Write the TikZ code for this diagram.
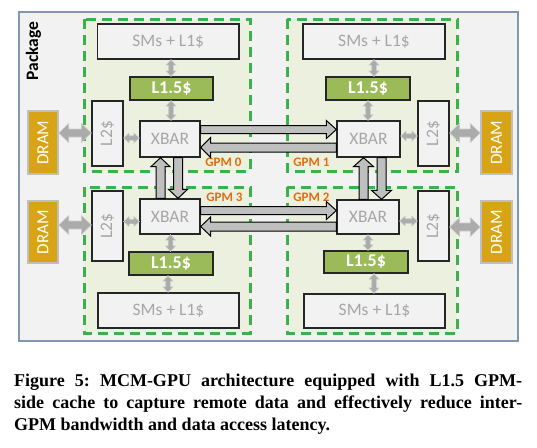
\documentclass[tikz,border=0pt]{standalone}
\usepackage{fontspec}
\setmainfont{Carlito}
\newfontfamily\capfont{Liberation Serif}
\usetikzlibrary{calc}
\definecolor{pkgfill}{RGB}{242,242,242}
\definecolor{pkgline}{RGB}{132,151,176}
\definecolor{gpmfill}{RGB}{235,241,222}
\definecolor{gpmline}{RGB}{60,176,75}
\definecolor{boxfill}{RGB}{242,242,242}
\definecolor{boxtext}{RGB}{166,166,166}
\definecolor{lonefive}{RGB}{155,187,89}
\definecolor{dramfill}{RGB}{214,164,20}
\definecolor{gpmlabel}{RGB}{228,108,10}
\definecolor{bigarrfill}{RGB}{191,191,191}
\definecolor{smarrfill}{RGB}{171,171,171}
\definecolor{smarrline}{RGB}{205,205,205}
\newcommand\dblarr[6]{%
  \coordinate (ha) at ($(#2)!#6!(#3)$);
  \coordinate (hb) at ($(#3)!#6!(#2)$);
  \draw[#1] (#2) -- ($(ha)!#5!90:(#3)$) -- ($(ha)!#4!90:(#3)$) -- ($(hb)!#4!90:(#3)$) -- ($(hb)!#5!90:(#3)$) -- (#3) -- ($(hb)!#5!-90:(#3)$) -- ($(hb)!#4!-90:(#3)$) -- ($(ha)!#4!-90:(#3)$) -- ($(ha)!#5!-90:(#3)$) -- cycle;
}
\newcommand\onearr[6]{%
  \coordinate (hb) at ($(#3)!#6!(#2)$);
  \draw[#1] ($(#2)!#4!90:(#3)$) -- ($(hb)!#4!90:(#3)$) -- ($(hb)!#5!90:(#3)$) -- (#3) -- ($(hb)!#5!-90:(#3)$) -- ($(hb)!#4!-90:(#3)$) -- ($(#2)!#4!-90:(#3)$) -- cycle;
}
\frenchspacing
\begin{document}
\begin{tikzpicture}[x=1pt,y=-1pt,
  package/.style={fill=pkgfill,draw=pkgline,line width=1.5pt},
  gpm/.style={fill=gpmfill,draw=gpmline,line width=3pt,dash pattern=on 10pt off 6pt},
  plainbox/.style={draw=black!85,line width=1.3pt,fill=boxfill,text=boxtext,inner sep=0pt,font=\fontsize{17.5}{19}\selectfont},
  cachebox/.style={draw=black!85,line width=1.2pt,fill=lonefive,text=white,inner sep=0pt,font=\fontsize{18}{19}\selectfont\bfseries},
  drambox/.style={draw=black!25,line width=1.5pt,fill=dramfill,inner sep=0pt},
  vtext/.style={rotate=90,inner sep=0pt},
  gpmtext/.style={text=gpmlabel,font=\fontsize{13}{14}\selectfont\bfseries,inner sep=0pt},
  bigarr/.style={draw=black,line width=1pt,fill=bigarrfill,line join=miter},
  smarr/.style={draw=smarrline,line width=0.6pt,fill=smarrfill},
  captext/.style={font=\capfont\bfseries\fontsize{18}{22}\selectfont,inner sep=0pt,anchor=base west}
]
\useasboundingbox (0,0) rectangle (537,447);
% package
\draw[package] (19,12) rectangle (518,341);
\node[vtext,font=\fontsize{17.5}{18}\selectfont\bfseries] (pkg) at (33.5,51) {Package};
% GPM panels
\draw[gpm] (84,19) rectangle (250,171);
\draw[gpm] (287,19) rectangle (457,171);
\draw[gpm] (84,187) rectangle (250,333);
\draw[gpm] (287,187) rectangle (457,333);
% GPM 0
\node[plainbox,minimum width=141.5pt,minimum height=35pt] (sm0) at (168.25,41.5) {SMs + L1\$};
\node[cachebox,minimum width=83pt,minimum height=23pt] (c0) at (171.5,88.5) {L1.5\$};
\node[plainbox,minimum width=31pt,minimum height=65pt] (l0) at (107.5,133.5) {};
\node[vtext,text=boxtext,font=\fontsize{17.5}{19}\selectfont] (t0) at (l0.center) {L2\$};
\node[plainbox,minimum width=60pt,minimum height=36pt] (x0) at (170,139) {XBAR};
\node[drambox,minimum width=30pt,minimum height=63pt] (d0) at (43,142.5) {};
\node[vtext,text=white,font=\fontsize{17}{18}\selectfont] (e0) at (d0.center) {DRAM};
% GPM 1
\node[plainbox,minimum width=142pt,minimum height=35pt] (sm1) at (374,41.5) {SMs + L1\$};
\node[cachebox,minimum width=84pt,minimum height=23pt] (c1) at (368,88.5) {L1.5\$};
\node[plainbox,minimum width=31pt,minimum height=65pt] (l1) at (433.5,133.5) {};
\node[vtext,text=boxtext,font=\fontsize{17.5}{19}\selectfont] (t1) at (l1.center) {L2\$};
\node[plainbox,minimum width=63pt,minimum height=36pt] (x1) at (368.5,139) {XBAR};
\node[drambox,minimum width=31pt,minimum height=63pt] (d1) at (496.5,142.5) {};
\node[vtext,text=white,font=\fontsize{17}{18}\selectfont] (e1) at (d1.center) {DRAM};
% GPM 3
\node[plainbox,minimum width=141pt,minimum height=35pt] (sm3) at (168.5,310.5) {SMs + L1\$};
\node[cachebox,minimum width=84pt,minimum height=23pt] (c3) at (171,263.5) {L1.5\$};
\node[plainbox,minimum width=31pt,minimum height=70pt] (l3) at (107.5,226) {};
\node[vtext,text=boxtext,font=\fontsize{17.5}{19}\selectfont] (t3) at (l3.center) {L2\$};
\node[plainbox,minimum width=60pt,minimum height=35pt] (x3) at (170,216.5) {XBAR};
\node[drambox,minimum width=30pt,minimum height=62pt] (d3) at (43,232) {};
\node[vtext,text=white,font=\fontsize{17}{18}\selectfont] (e3) at (d3.center) {DRAM};
% GPM 2
\node[plainbox,minimum width=141pt,minimum height=34pt] (sm2) at (374.5,311) {SMs + L1\$};
\node[cachebox,minimum width=84pt,minimum height=22pt] (c2) at (366,262) {L1.5\$};
\node[plainbox,minimum width=31pt,minimum height=70pt] (l2) at (433.5,226) {};
\node[vtext,text=boxtext,font=\fontsize{17.5}{19}\selectfont] (t2) at (l2.center) {L2\$};
\node[plainbox,minimum width=62pt,minimum height=34pt] (x2) at (368,217) {XBAR};
\node[drambox,minimum width=31pt,minimum height=62pt] (d2) at (496.5,232) {};
\node[vtext,text=white,font=\fontsize{17}{18}\selectfont] (e2) at (d2.center) {DRAM};
% GPM labels
\node[gpmtext] (g0) at (223.5,162.7) {GPM 0};
\node[gpmtext] (g1) at (311.5,162.7) {GPM 1};
\node[gpmtext] (g3) at (224.5,197.5) {GPM 3};
\node[gpmtext] (g2) at (311.5,197.5) {GPM 2};
% small arrows
\dblarr{smarr}{sm0.south -| 171,0}{c0.north -| 171,0}{2.3pt}{5pt}{5.5pt}
\dblarr{smarr}{c0.south -| 171,0}{x0.north -| 171,0}{2.3pt}{5pt}{5.5pt}
\dblarr{smarr}{l0.east |- 0,138}{x0.west |- 0,138}{2.3pt}{5pt}{5.5pt}
\dblarr{smarr}{d0.east |- 0,133}{l0.west |- 0,133}{4pt}{9.5pt}{10pt}
\dblarr{smarr}{sm1.south -| 374,0}{c1.north -| 374,0}{2.3pt}{5pt}{5.5pt}
\dblarr{smarr}{c1.south -| 368,0}{x1.north -| 368,0}{2.3pt}{5pt}{5.5pt}
\dblarr{smarr}{x1.east |- 0,136}{l1.west |- 0,136}{2.3pt}{5pt}{5.5pt}
\dblarr{smarr}{l1.east |- 0,133}{d1.west |- 0,133}{4pt}{9.5pt}{10pt}
\dblarr{smarr}{x3.south -| 170.5,0}{c3.north -| 170.5,0}{2.3pt}{5pt}{5.5pt}
\dblarr{smarr}{c3.south -| 168,0}{sm3.north -| 168,0}{2.3pt}{5pt}{5.5pt}
\dblarr{smarr}{l3.east |- 0,221.5}{x3.west |- 0,221.5}{2.3pt}{5pt}{5.5pt}
\dblarr{smarr}{d3.east |- 0,225}{l3.west |- 0,225}{4pt}{9.5pt}{10pt}
\dblarr{smarr}{x2.south -| 368,0}{c2.north -| 368,0}{2.3pt}{5pt}{5.5pt}
\dblarr{smarr}{c2.south -| 374,0}{sm2.north -| 374,0}{2.3pt}{5pt}{5.5pt}
\dblarr{smarr}{x2.east |- 0,221}{l2.west |- 0,221}{2.3pt}{5pt}{5.5pt}
\dblarr{smarr}{l2.east |- 0,227}{d2.west |- 0,227}{4pt}{9.5pt}{10pt}
% big inter-GPM arrows
\onearr{bigarr}{x0.east |- 0,129.5}{x1.west |- 0,129.5}{4pt}{9pt}{10pt}
\onearr{bigarr}{x1.west |- 0,147.5}{x0.east |- 0,147.5}{4.5pt}{10pt}{10pt}
\onearr{bigarr}{x3.east |- 0,210.5}{x2.west |- 0,210.5}{4pt}{9pt}{10pt}
\onearr{bigarr}{x2.west |- 0,226.5}{x3.east |- 0,226.5}{4.5pt}{9.5pt}{10pt}
\onearr{bigarr}{x3.north -| 160.5,0}{x0.south -| 160.5,0}{4.5pt}{9.5pt}{9pt}
\onearr{bigarr}{x0.south -| 178,0}{x3.north -| 178,0}{4.5pt}{9.5pt}{9pt}
\onearr{bigarr}{x2.north -| 363.5,0}{x1.south -| 363.5,0}{4.5pt}{10pt}{9pt}
\onearr{bigarr}{x1.south -| 381.5,0}{x2.north -| 381.5,0}{4.5pt}{10pt}{9pt}
% caption
\node[captext] (cap1) at (14,386) {\makebox[508pt][s]{Figure 5: MCM-GPU architecture equipped with L1.5 GPM-}};
\node[captext] (cap2) at (14,408) {\makebox[508pt][s]{side cache to capture remote data and effectively reduce inter-}};
\node[captext] (cap3) at (14,430) {GPM bandwidth and data access latency.};
\end{tikzpicture}
\end{document}
